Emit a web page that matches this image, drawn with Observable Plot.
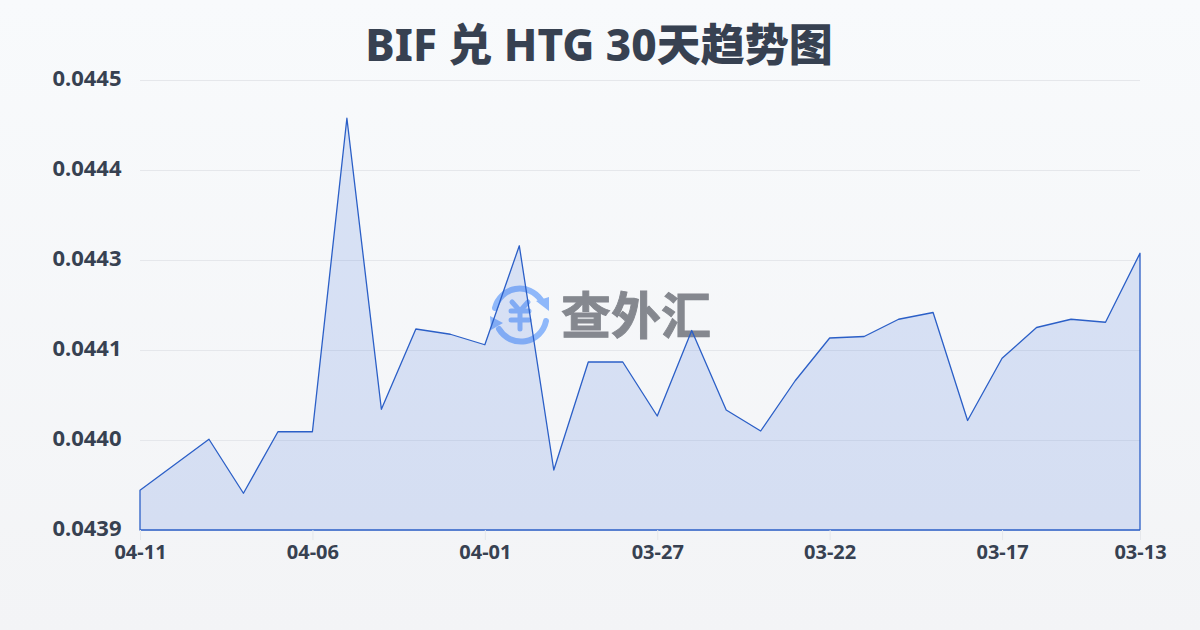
<!DOCTYPE html>
<html lang="zh">
<head>
<meta charset="utf-8">
<script src="https://cdn.jsdelivr.net/npm/d3@7"></script>
<script src="https://cdn.jsdelivr.net/npm/@observablehq/plot@0.6"></script>
<style>
  html, body { margin: 0; padding: 0; }
  body { width: 1200px; height: 630px; overflow: hidden; position: relative;
         background: linear-gradient(180deg, #f8fafc 0%, #f3f4f6 100%);
         font-family: "Noto Sans", "Noto Sans CJK SC", sans-serif; }
  #title { height: 70px; line-height: 88px; text-align: center; font-size: 44px; font-weight: 800; color: #374151; position: relative; left: -1px; }
  #wm { position: absolute; left: 0; top: 0; width: 1200px; height: 630px; }
  #chart { position: relative; }
  #chart svg { display: block; background: transparent; }
</style>
</head>
<body>
<svg id="wm" viewBox="0 0 1200 630" aria-hidden="true">
  <g fill="none" stroke="#8fb8fa" stroke-width="6" stroke-linecap="round">
    <path d="M495 308 A25.5 25.5 0 0 1 541 300"/>
    <path d="M546 321 A25.5 25.5 0 0 1 499 329"/>
  </g>
  <g fill="#8fb8fa">
    <path d="M536 301 L549 297 L549 311 Z"/>
    <path d="M490 316 L503 323 L491 330 Z"/>
  </g>
  <g fill="none" stroke="#8fb8fa" stroke-width="5" stroke-linecap="round" stroke-linejoin="round">
    <path d="M512 302 L520 311 L528 302"/>
    <path d="M511 311 H529 M511 320 H529 M520 311 V329"/>
  </g>
  <text x="636" y="334" text-anchor="middle" font-size="50" font-weight="700" fill="#85888f" stroke="#85888f" stroke-width="0.9" font-family="Noto Sans CJK SC">查外汇</text>
</svg>
<div id="title">BIF 兑 HTG 30天趋势图</div>
<div id="chart"></div>
<script>
const dates = ["04-11","04-10","04-09","04-08","04-07","04-06","04-05","04-04","04-03","04-02",
               "04-01","03-31","03-30","03-29","03-28","03-27","03-26","03-25","03-24","03-23",
               "03-22","03-21","03-20","03-19","03-18","03-17","03-16","03-15","03-14","03-13"];
const rates = [0.043953,0.043987,0.044021,0.043949,0.044031,0.044031,0.044449,0.044061,0.044168,0.044161,
               0.044147,0.044279,0.043980,0.044124,0.044124,0.044052,0.044166,0.044060,0.044032,0.044099,
               0.044156,0.044158,0.044181,0.044190,0.044046,0.044129,0.044170,0.044181,0.044177,0.044269];
const yTicks = [0.0439,0.04402,0.04414,0.04426,0.04438,0.0445];
const xTicks = ["04-11","04-06","04-01","03-27","03-22","03-17","03-13"];
const baseline = 0.0439;
const rows = dates.map((date, i) => ({date, rate: rates[i]}));

const plot = Plot.plot({
  width: 1200, height: 500,
  marginTop: 10, marginBottom: 40, marginLeft: 140, marginRight: 60,
  style: {background: "transparent", fontFamily: "'Noto Sans', sans-serif", overflow: "visible"},
  x: {type: "point", domain: dates, padding: 0, round: false, label: null},
  y: {domain: [baseline, 0.0445], label: null},
  marks: [
    Plot.gridY(yTicks, {stroke: "#e5e7eb", strokeOpacity: 1, strokeWidth: 1}),
    Plot.areaY(rows, {x: "date", y1: () => baseline, y2: "rate", fill: "#3a6bdc", fillOpacity: 0.16,
                      stroke: "#2b5fc7", strokeWidth: 1.3}),
    Plot.axisY({ticks: yTicks, tickSize: 0, tickPadding: 19, tickFormat: d => d.toFixed(4),
                fontSize: 22, fontWeight: 700, fill: "#374151", dy: -1.5}),
    Plot.axisX({ticks: xTicks, tickSize: 10, tickPadding: 4, stroke: "#e5e7eb", fontSize: 20, fontWeight: 700, fill: "#374151",
                textStroke: "none"})
  ]
});
document.getElementById("chart").appendChild(plot);
</script>
</body>
</html>
